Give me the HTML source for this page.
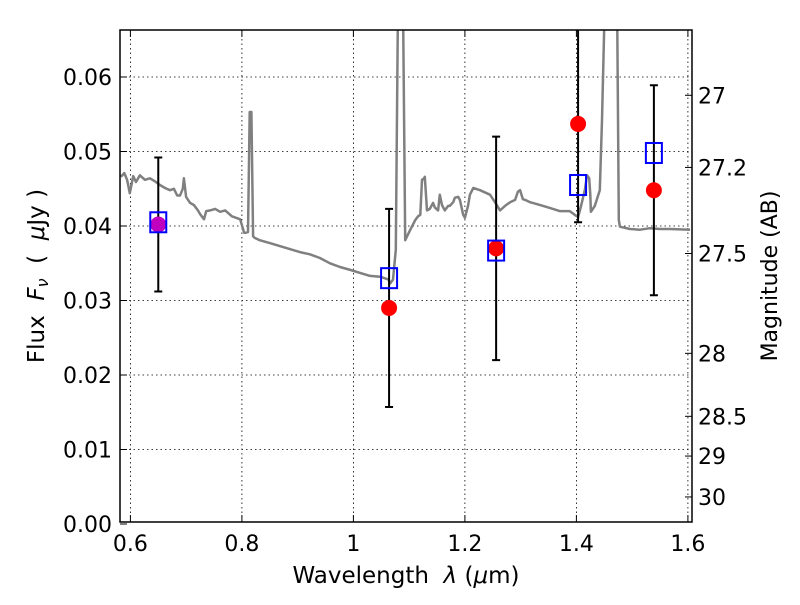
<!DOCTYPE html>
<html><head><meta charset="utf-8"><style>
body{margin:0;background:#fff}
svg{font-family:"DejaVu Sans","Liberation Sans",sans-serif}
</style></head><body>
<svg id="chart" width="800" height="600" xmlns="http://www.w3.org/2000/svg">
<defs><clipPath id="plotclip"><rect x="120" y="30" width="572" height="492"/></clipPath></defs>
<rect x="0" y="0" width="800" height="600" fill="#fff"/>
<g id="grid"></g>
<g id="spec" clip-path="url(#plotclip)"></g>
<g id="pts" clip-path="url(#plotclip)"></g>
<rect x="120" y="30" width="572" height="492" fill="none" stroke="#000" stroke-width="1.5"/>
<g id="axes"></g>
<text x="406" y="583" font-size="23" text-anchor="middle">Wavelength&#160;&#160;<tspan font-style="italic">λ</tspan> (<tspan font-style="italic">μ</tspan>m)</text>
<text transform="translate(44,276) rotate(-90)" font-size="23" text-anchor="middle">Flux&#160;&#160;<tspan font-style="italic">F</tspan><tspan font-style="italic" font-size="16" dy="4">ν</tspan><tspan dy="-4">&#160;&#160;(&#160;&#160;</tspan><tspan font-style="italic">μ</tspan>Jy )</text>
<text transform="translate(777,276) rotate(-90)" font-size="22" text-anchor="middle">Magnitude (AB)</text>
</svg>
<script>
const xTicks=[0.6,0.8,1.0,1.2,1.4,1.6];
const xTickLabels=["0.6","0.8","1","1.2","1.4","1.6"];
const yTicks=[0,0.01,0.02,0.03,0.04,0.05,0.06];
const yTickLabels=["0.00","0.01","0.02","0.03","0.04","0.05","0.06"];
const magTicks=[27,27.2,27.5,28,28.5,29,30];
const magTickLabels=["27","27.2","27.5","28","28.5","29","30"];
const specLam=[0.583,0.589,0.594,0.599,0.605,0.610,0.617,0.626,0.635,0.644,0.653,0.662,0.671,0.678,0.684,0.689,0.694,0.696,0.700,0.707,0.714,0.721,0.725,0.732,0.736,0.743,0.752,0.761,0.770,0.782,0.797,0.804,0.807,0.811,0.814,0.817,0.820,0.823,0.832,0.850,0.868,0.886,0.904,0.922,0.940,0.958,0.976,0.995,1.012,1.030,1.048,1.063,1.066,1.071,1.076,1.080,1.083,1.089,1.093,1.102,1.111,1.116,1.120,1.123,1.127,1.128,1.132,1.137,1.143,1.146,1.152,1.155,1.159,1.164,1.170,1.173,1.179,1.182,1.188,1.191,1.197,1.200,1.206,1.209,1.215,1.227,1.245,1.254,1.263,1.272,1.281,1.290,1.295,1.299,1.304,1.308,1.317,1.335,1.353,1.370,1.388,1.397,1.403,1.408,1.415,1.419,1.423,1.425,1.426,1.433,1.442,1.446,1.451,1.473,1.476,1.478,1.496,1.514,1.532,1.550,1.568,1.604];
const specFlux=[0.0466,0.0471,0.0462,0.0444,0.0467,0.0459,0.0468,0.0462,0.0464,0.0460,0.0455,0.0451,0.0448,0.0450,0.0441,0.0441,0.0450,0.0464,0.0439,0.0431,0.0428,0.0421,0.0416,0.0409,0.0420,0.0421,0.0423,0.0419,0.0421,0.0413,0.0409,0.0391,0.0391,0.0392,0.0553,0.0553,0.0386,0.0384,0.0381,0.0377,0.0373,0.0369,0.0365,0.0362,0.0357,0.0350,0.0345,0.0341,0.0337,0.0333,0.0332,0.0328,0.0323,0.0328,0.0368,0.0700,0.0700,0.0700,0.0381,0.0395,0.0408,0.0413,0.0415,0.0462,0.0464,0.0466,0.0421,0.0423,0.0431,0.0425,0.0421,0.0442,0.0428,0.0421,0.0427,0.0427,0.0432,0.0438,0.0439,0.0435,0.0415,0.0411,0.0428,0.0442,0.0451,0.0448,0.0442,0.0432,0.0421,0.0427,0.0432,0.0435,0.0446,0.0448,0.0436,0.0435,0.0432,0.0428,0.0424,0.0420,0.0420,0.0415,0.0412,0.0426,0.0448,0.0468,0.0464,0.0442,0.0419,0.0427,0.0448,0.0542,0.0700,0.0700,0.0408,0.0399,0.0396,0.0395,0.0397,0.0396,0.0396,0.0395];
const photLam=[0.650,1.064,1.256,1.403,1.539];
const modelFlux=[0.0405,0.0330,0.0367,0.0455,0.0498];
const obsFlux=[0.0402,0.0290,0.0370,0.0537,0.0448];
const obsErr=[0.0090,0.0133,0.0150,0.0132,0.0141];
const obsColor=["#bf00bf","red","red","red","red"];

const NS="http://www.w3.org/2000/svg";
const X=v=>130.4+(v-0.6)*557.5;
const Y=f=>524-f*7450;
const magToFlux=m=>Math.pow(10,(23.9-m)/2.5);
function mk(tag,attrs,parent){const e=document.createElementNS(NS,tag);for(const k in attrs)e.setAttribute(k,attrs[k]);parent.appendChild(e);return e;}
const grid=document.getElementById('grid'),axes=document.getElementById('axes');
xTicks.forEach((t,i)=>{
  const gl=mk('line',{x1:X(t),x2:X(t),y1:30,y2:522,stroke:'#000','stroke-width':0.8,'stroke-dasharray':'1.5,3'},grid);
  
  
  const tk=mk('path',{d:`M${X(t)},522v-7M${X(t)},30v7`,stroke:'#000','stroke-width':1},axes);
  
  
  const lb=mk('text',{x:X(t),y:551,'font-size':22,'text-anchor':'middle'},axes);
  lb.textContent=xTickLabels[i];
  
  
});
yTicks.forEach((t,i)=>{
  if(t>0){const gl=mk('line',{x1:120,x2:692,y1:Y(t),y2:Y(t),stroke:'#000','stroke-width':0.8,'stroke-dasharray':'1.5,3'},grid);
  
  }
  const tk=mk('path',{d:`M120,${Y(t)}h7`,stroke:'#000','stroke-width':1},axes);
  
  
  const lb=mk('text',{x:112,y:Y(t)+8,'font-size':22,'text-anchor':'end'},axes);
  lb.textContent=yTickLabels[i];
  
  
});
magTicks.forEach((m,i)=>{
  const y=Y(magToFlux(m));
  const tk=mk('path',{d:`M692,${y}h-7`,stroke:'#000','stroke-width':1},axes);
  
  
  const lb=mk('text',{x:698,y:y+8,'font-size':22},axes);
  lb.textContent=magTickLabels[i];
  
  
});
const spec=document.getElementById('spec');
const sp=mk('polyline',{points:specLam.map((l,i)=>X(l).toFixed(1)+','+Y(specFlux[i]).toFixed(1)).join(' '),fill:'none',stroke:'#808080','stroke-width':2.5,'stroke-linejoin':'round'},spec);


const pts=document.getElementById('pts');
photLam.forEach((l,i)=>{
  const x=X(l);
  const eb=mk('path',{d:`M${x},${Y(obsFlux[i]-obsErr[i])}V${Y(obsFlux[i]+obsErr[i])}M${x-4},${Y(obsFlux[i]-obsErr[i])}h8M${x-4},${Y(obsFlux[i]+obsErr[i])}h8`,stroke:'#000','stroke-width':2},pts);
  
  
  const c=mk('circle',{cx:x,cy:Y(obsFlux[i]),r:8,fill:obsColor[i]},pts);
  
  
  const s=mk('rect',{x:x-8,y:Y(modelFlux[i])-10,width:16,height:20,fill:'none',stroke:'#0000ff','stroke-width':2},pts);
  
  
});
</script>
</body></html>
